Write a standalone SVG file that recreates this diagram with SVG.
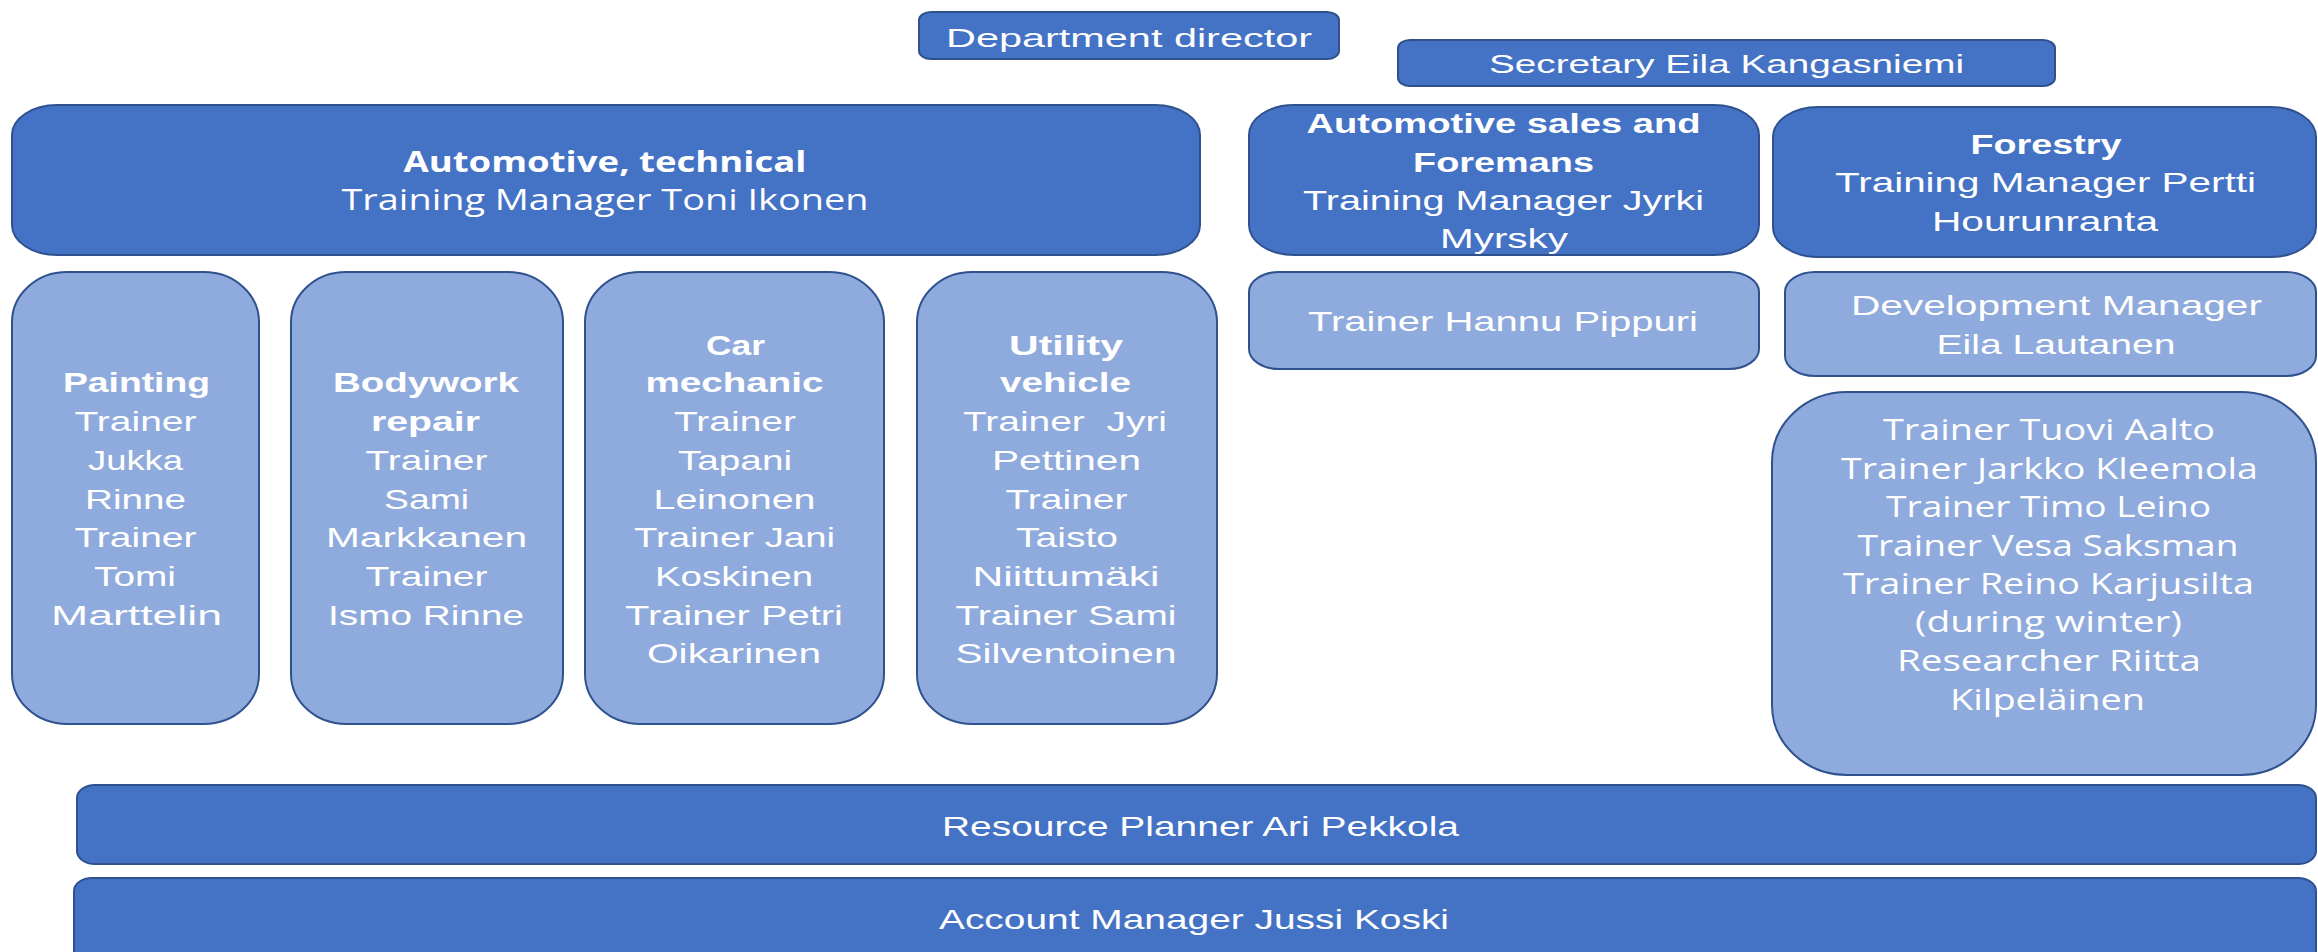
<svg xmlns="http://www.w3.org/2000/svg" width="2318" height="952" viewBox="0 0 2318 952">
<style>
.dark{fill:#4472C4;stroke:#2F528F;stroke-width:2}
.light{fill:#8FAADC;stroke:#2F528F;stroke-width:2}
text{fill:#FFFFFF;font-family:"Liberation Sans",Arial,sans-serif;font-size:28px;text-anchor:middle;lengthAdjust:spacingAndGlyphs}
.b{font-weight:bold}
.os{font-family:"Open Sans","Liberation Sans",sans-serif;font-size:29px}
.sm{font-size:26px}
</style>
<rect width="2318" height="952" fill="#FFFFFF"/>
<g id="connectors"/>
<g id="department-director">
<rect class="dark" x="919" y="12" width="420" height="47" rx="12" ry="8"/>
<text class="sm" x="1129" y="47" textLength="366" lengthAdjust="spacingAndGlyphs">Department director</text>
</g>
<g id="secretary">
<rect class="dark" x="1398" y="40" width="657" height="46" rx="12" ry="8"/>
<text class="sm" x="1726.5" y="73" textLength="475" lengthAdjust="spacingAndGlyphs">Secretary Eila Kangasniemi</text>
</g>
<g id="automotive-technical">
<rect class="dark" x="12" y="105" width="1188" height="150" rx="45" ry="30"/>
<text class="b os" x="605" y="172" textLength="403" lengthAdjust="spacingAndGlyphs">Automotive, technical</text>
<text class="os" x="605" y="210" textLength="527" lengthAdjust="spacingAndGlyphs">Training Manager Toni Ikonen</text>
</g>
<g id="automotive-sales">
<rect class="dark" x="1249" y="105" width="510" height="150" rx="45" ry="30"/>
<text class="b" x="1503.5" y="133" textLength="394" lengthAdjust="spacingAndGlyphs">Automotive sales and</text>
<text class="b" x="1503.5" y="172" textLength="181" lengthAdjust="spacingAndGlyphs">Foremans</text>
<text x="1503.5" y="210" textLength="401" lengthAdjust="spacingAndGlyphs">Training Manager Jyrki</text>
<text x="1504" y="248" textLength="128" lengthAdjust="spacingAndGlyphs">Myrsky</text>
</g>
<g id="forestry">
<rect class="dark" x="1773" y="107" width="543" height="150" rx="45" ry="30"/>
<text class="b" x="2046" y="154" textLength="151" lengthAdjust="spacingAndGlyphs">Forestry</text>
<text x="2045.5" y="192" textLength="421" lengthAdjust="spacingAndGlyphs">Training Manager Pertti</text>
<text x="2045" y="231" textLength="226" lengthAdjust="spacingAndGlyphs">Hourunranta</text>
</g>
<g id="trainer-hannu">
<rect class="light" x="1249" y="272" width="510" height="97" rx="30" ry="20"/>
<text x="1503" y="331" textLength="390" lengthAdjust="spacingAndGlyphs">Trainer Hannu Pippuri</text>
</g>
<g id="development-manager">
<rect class="light" x="1785" y="272" width="531" height="104" rx="30" ry="20"/>
<text x="2056.5" y="315" textLength="411" lengthAdjust="spacingAndGlyphs">Development Manager</text>
<text x="2056" y="354" textLength="239" lengthAdjust="spacingAndGlyphs">Eila Lautanen</text>
</g>
<g id="forestry-trainers">
<rect class="light" x="1772" y="392" width="544" height="383" rx="75" ry="70"/>
<text class="os" x="2049" y="440" textLength="332" lengthAdjust="spacingAndGlyphs">Trainer Tuovi Aalto</text>
<text class="os" x="2049.5" y="479" textLength="417" lengthAdjust="spacingAndGlyphs">Trainer Jarkko Kleemola</text>
<text class="os" x="2048.5" y="517" textLength="325" lengthAdjust="spacingAndGlyphs">Trainer Timo Leino</text>
<text class="os" x="2048" y="556" textLength="381" lengthAdjust="spacingAndGlyphs">Trainer Vesa Saksman</text>
<text class="os" x="2048.5" y="594" textLength="411" lengthAdjust="spacingAndGlyphs">Trainer Reino Karjusilta</text>
<text class="os" x="2048.5" y="632" textLength="267" lengthAdjust="spacingAndGlyphs">(during winter)</text>
<text class="os" x="2049" y="671" textLength="304" lengthAdjust="spacingAndGlyphs">Researcher Riitta</text>
<text class="os" x="2047.5" y="710" textLength="195" lengthAdjust="spacingAndGlyphs">Kilpeläinen</text>
</g>
<g id="painting">
<rect class="light" x="12" y="272" width="247" height="452" rx="55" ry="50"/>
<text class="b" x="136.5" y="392" textLength="147" lengthAdjust="spacingAndGlyphs">Painting</text>
<text x="135.5" y="431" textLength="122" lengthAdjust="spacingAndGlyphs">Trainer</text>
<text x="135.5" y="470" textLength="95" lengthAdjust="spacingAndGlyphs">Jukka</text>
<text x="135.5" y="509" textLength="101" lengthAdjust="spacingAndGlyphs">Rinne</text>
<text x="135.5" y="547" textLength="122" lengthAdjust="spacingAndGlyphs">Trainer</text>
<text x="135" y="586" textLength="82" lengthAdjust="spacingAndGlyphs">Tomi</text>
<text x="136.5" y="625" textLength="171" lengthAdjust="spacingAndGlyphs">Marttelin</text>
</g>
<g id="bodywork">
<rect class="light" x="291" y="272" width="272" height="452" rx="55" ry="50"/>
<text class="b" x="426" y="392" textLength="186" lengthAdjust="spacingAndGlyphs">Bodywork</text>
<text class="b" x="425.5" y="431" textLength="109" lengthAdjust="spacingAndGlyphs">repair</text>
<text x="426.5" y="470" textLength="122" lengthAdjust="spacingAndGlyphs">Trainer</text>
<text x="426.5" y="509" textLength="85" lengthAdjust="spacingAndGlyphs">Sami</text>
<text x="426.5" y="547" textLength="201" lengthAdjust="spacingAndGlyphs">Markkanen</text>
<text x="426.5" y="586" textLength="122" lengthAdjust="spacingAndGlyphs">Trainer</text>
<text x="426" y="625" textLength="196" lengthAdjust="spacingAndGlyphs">Ismo Rinne</text>
</g>
<g id="car-mechanic">
<rect class="light" x="585" y="272" width="299" height="452" rx="55" ry="50"/>
<text class="b" x="735.5" y="355" textLength="59" lengthAdjust="spacingAndGlyphs">Car</text>
<text class="b" x="734.5" y="392" textLength="178" lengthAdjust="spacingAndGlyphs">mechanic</text>
<text x="735" y="431" textLength="122" lengthAdjust="spacingAndGlyphs">Trainer</text>
<text x="735" y="470" textLength="114" lengthAdjust="spacingAndGlyphs">Tapani</text>
<text x="734.5" y="509" textLength="162" lengthAdjust="spacingAndGlyphs">Leinonen</text>
<text x="734.5" y="547" textLength="201" lengthAdjust="spacingAndGlyphs">Trainer Jani</text>
<text x="734" y="586" textLength="158" lengthAdjust="spacingAndGlyphs">Koskinen</text>
<text x="734" y="625" textLength="218" lengthAdjust="spacingAndGlyphs">Trainer Petri</text>
<text x="734" y="663" textLength="174" lengthAdjust="spacingAndGlyphs">Oikarinen</text>
</g>
<g id="utility-vehicle">
<rect class="light" x="917" y="272" width="300" height="452" rx="55" ry="50"/>
<text class="b" x="1066" y="355" textLength="114" lengthAdjust="spacingAndGlyphs">Utility</text>
<text class="b" x="1065.5" y="392" textLength="131" lengthAdjust="spacingAndGlyphs">vehicle</text>
<text x="1065" y="431" textLength="204" lengthAdjust="spacingAndGlyphs" xml:space="preserve">Trainer  Jyri</text>
<text x="1066.5" y="470" textLength="149" lengthAdjust="spacingAndGlyphs">Pettinen</text>
<text x="1066.5" y="509" textLength="122" lengthAdjust="spacingAndGlyphs">Trainer</text>
<text x="1067" y="547" textLength="102" lengthAdjust="spacingAndGlyphs">Taisto</text>
<text x="1066" y="586" textLength="187" lengthAdjust="spacingAndGlyphs">Niittumäki</text>
<text x="1066" y="625" textLength="221" lengthAdjust="spacingAndGlyphs">Trainer Sami</text>
<text x="1066" y="663" textLength="221" lengthAdjust="spacingAndGlyphs">Silventoinen</text>
</g>
<g id="resource-planner">
<rect class="dark" x="77" y="785" width="2239" height="79" rx="18" ry="13"/>
<text x="1200.5" y="836" textLength="517" lengthAdjust="spacingAndGlyphs">Resource Planner Ari Pekkola</text>
</g>
<g id="account-manager">
<rect class="dark" x="74" y="878" width="2242" height="100" rx="18" ry="13"/>
<text x="1194" y="929" textLength="510" lengthAdjust="spacingAndGlyphs">Account Manager Jussi Koski</text>
</g>
</svg>
